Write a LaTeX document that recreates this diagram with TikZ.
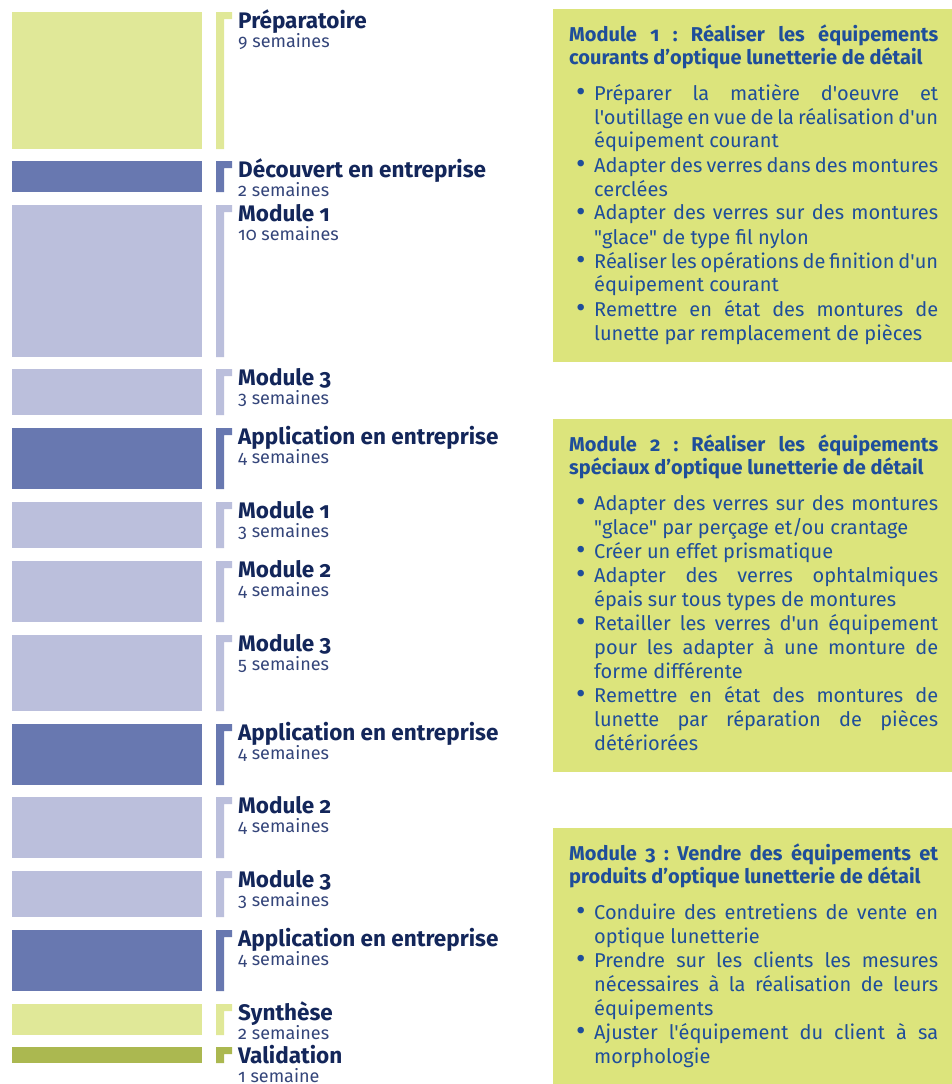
\documentclass[tikz,border=0pt]{standalone}
\usepackage{fontspec}
\setmainfont{Fira Sans}[Numbers=OldStyle]
\newfontfamily\fbody{Fira Sans}[Numbers=OldStyle]
\frenchspacing
\definecolor{lg}{HTML}{E0E898}
\definecolor{db}{HTML}{6878B0}
\definecolor{lv}{HTML}{BBBFDC}
\definecolor{ol}{HTML}{ABB850}
\definecolor{boxg}{HTML}{DCE47C}
\definecolor{navy}{HTML}{13265A}
\definecolor{subnavy}{HTML}{34457A}
\definecolor{boxtext}{HTML}{1F4E9A}
\newcommand\myJ[1]{\hbox to 369pt{#1}}
\newcommand\myN[1]{\hbox{#1}}
\newcommand\mybul{\rlap{\hskip 7pt\raisebox{-1.5pt}{\scalebox{1.45}{\textbullet}}}}
\newcommand\myBJ[1]{\hbox to 369pt{\mybul\hskip 25pt #1}}
\newcommand\myBN[1]{\hbox{\mybul\hskip 25pt #1}}
\newcommand\myCJ[1]{\hbox to 369pt{\hskip 25pt #1}}
\newcommand\myCN[1]{\hbox{\hskip 25pt #1}}
\newcommand\myhead{\fbody\bfseries\fontsize{20}{23}\selectfont}
\newcommand\mybody{\fbody\mdseries\fontsize{20}{24}\selectfont}
\tikzset{
  title/.style={anchor=base west, inner sep=0pt, text=navy, font=\bfseries\fontsize{22.5}{26}\selectfont},
  sub/.style={anchor=base west, inner sep=0pt, text=subnavy, font=\fontsize{18}{20}\selectfont},
  panel/.style={fill=boxg},
  paneltext/.style={anchor=base west, inner sep=0pt, text=boxtext}
}
\begin{document}
\begin{tikzpicture}[x=1pt,y=-1pt]
\useasboundingbox[fill=white] (0,0) rectangle (952,1084);
\foreach \t/\b/\c/\ti/\su [count=\k] in {
12/149/lg/Préparatoire/9 semaines,
161/192/db/Découvert en entreprise/2 semaines,
205/357/lv/Module 1/10 semaines,
369/415/lv/Module 3/3 semaines,
428/489/db/Application en entreprise/4 semaines,
502/548/lv/Module 1/3 semaines,
561/622/lv/Module 2/4 semaines,
635/711/lv/Module 3/5 semaines,
724/785/db/Application en entreprise/4 semaines,
797/858/lv/Module 2/4 semaines,
871/917/lv/Module 3/3 semaines,
930/991/db/Application en entreprise/4 semaines,
1004/1035/lg/Synthèse/2 semaines,
1047/1063/ol/Validation/1 semaine}{
  \fill[\c] (12,\t) rectangle (202,\b);
  \fill[\c] (216,\t) -- (232,\t) -- (232,\t+7) -- (224,\t+7) -- (224,\b) -- (216,\b) -- cycle;
  \node[title] (ti\k) at (238,\t+16) {\ti};
  \node[sub] (su\k) at (238,\t+35) {\su};
}
\fill[panel] (553,9) rectangle (952,362);
\fill[panel] (553,419) rectangle (952,772);
\fill[panel] (553,828) rectangle (952,1084);

\node[paneltext] (m1) at (569,41) {\vtop{\lineskiplimit=-\maxdimen\lineskip=0pt
\myhead
\myJ{Module 1 : Réaliser les équipements}
\myN{courants d’optique lunetterie de détail}
\vskip 12pt
\mybody
\myBJ{Préparer la matière d'oeuvre et}
\myCJ{l'outillage en vue de la réalisation d'un}
\myCN{équipement courant}
\myBJ{Adapter des verres dans des montures}
\myCN{cerclées}
\myBJ{Adapter des verres sur des montures}
\myCN{"glace" de type fil nylon}
\myBJ{Réaliser les opérations de finition d'un}
\myCN{équipement courant}
\myBJ{Remettre en état des montures de}
\myCN{lunette par remplacement de pièces}
}};

\node[paneltext] (m2) at (569,451) {\vtop{\lineskiplimit=-\maxdimen\lineskip=0pt
\myhead
\myJ{Module 2 : Réaliser les équipements}
\myN{spéciaux d’optique lunetterie de détail}
\vskip 12pt
\mybody
\myBJ{Adapter des verres sur des montures}
\myCN{"glace" par perçage et/ou crantage}
\myBN{Créer un effet prismatique}
\myBJ{Adapter des verres ophtalmiques}
\myCN{épais sur tous types de montures}
\myBJ{Retailler les verres d'un équipement}
\myCJ{pour les adapter à une monture de}
\myCN{forme différente}
\myBJ{Remettre en état des montures de}
\myCJ{lunette par réparation de pièces}
\myCN{détériorées}
}};

\node[paneltext] (m3) at (569,860) {\vtop{\lineskiplimit=-\maxdimen\lineskip=0pt
\myhead
\myJ{Module 3 : Vendre des équipements et}
\myN{produits d’optique lunetterie de détail}
\vskip 12pt
\mybody
\myBJ{Conduire des entretiens de vente en}
\myCN{optique lunetterie}
\myBJ{Prendre sur les clients les mesures}
\myCJ{nécessaires à la réalisation de leurs}
\myCN{équipements}
\myBJ{Ajuster l'équipement du client à sa}
\myCN{morphologie}
}};
\end{tikzpicture}
\end{document}
